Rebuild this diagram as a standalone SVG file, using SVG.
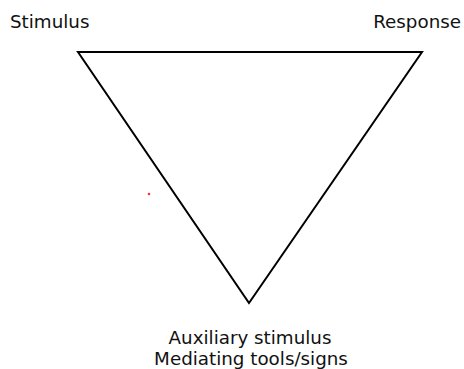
<svg xmlns="http://www.w3.org/2000/svg" width="464" height="369" viewBox="0 0 464 369">
<style>
.lbl{font-family:"DejaVu Sans",Verdana,sans-serif;font-size:18.3px;fill:#111}
</style>
<rect width="464" height="369" fill="#fff"/>
<g id="connectors">
<polygon points="78,52 422,52 249,303" fill="none" stroke="#000" stroke-width="2"/>
</g>
<g id="stimulus"><text class="lbl" x="10" y="28">Stimulus</text></g>
<g id="response"><text class="lbl" x="461" y="28" text-anchor="end">Response</text></g>
<g id="auxiliary"><text class="lbl" x="250" y="344" text-anchor="middle">Auxiliary stimulus</text><text class="lbl" x="251" y="365" text-anchor="middle">Mediating tools/signs</text></g>
<circle cx="149" cy="194" r="1.3" fill="#f33"/>
</svg>
